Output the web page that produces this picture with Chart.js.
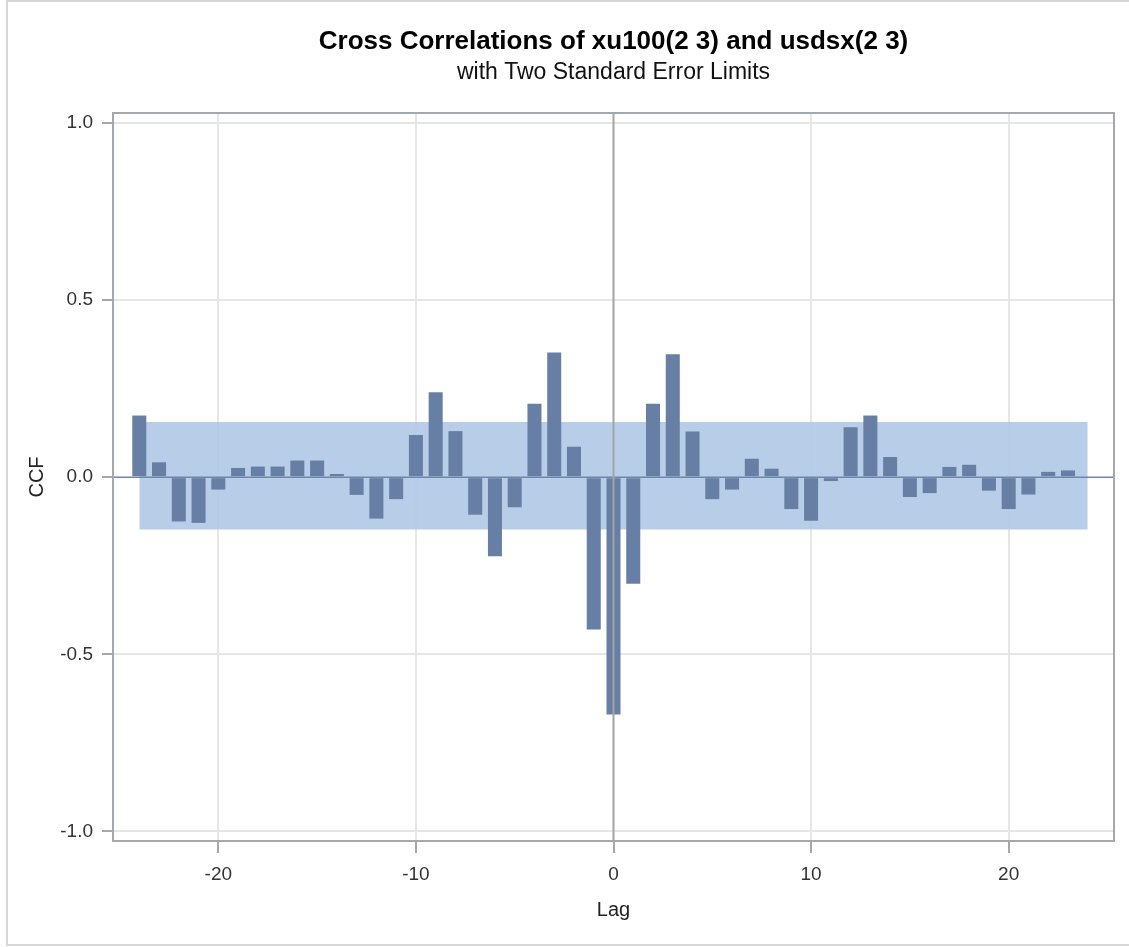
<!DOCTYPE html>
<html>
<head>
<meta charset="utf-8">
<title>Cross Correlations of xu100(2 3) and usdsx(2 3)</title>
<script src="https://cdn.jsdelivr.net/npm/chart.js@4.4.1/dist/chart.umd.min.js"></script>
<style>
  html, body { margin: 0; padding: 0; background: #ffffff; }
  #wrap { width: 1129px; height: 947px; }
</style>
</head>
<body>
<div id="wrap"><canvas id="ccf" width="1129" height="947"></canvas></div>
<script>
// Lags and cross-correlation values
const lags = [-24, -23, -22, -21, -20, -19, -18, -17, -16, -15, -14, -13, -12, -11, -10, -9, -8, -7, -6, -5, -4, -3, -2, -1,
              0, 1, 2, 3, 4, 5, 6, 7, 8, 9, 10, 11, 12, 13, 14, 15, 16, 17, 18, 19, 20, 21, 22, 23];
const ccf = [0.174, 0.042, -0.125, -0.129, -0.035, 0.026, 0.030, 0.030, 0.047, 0.047, 0.009, -0.050, -0.117, -0.062, 0.119, 0.240, 0.130, -0.106, -0.223, -0.085, 0.207, 0.352, 0.086, -0.430,
             -0.670, -0.301, 0.207, 0.347, 0.129, -0.062, -0.035, 0.052, 0.024, -0.090, -0.123, -0.011, 0.141, 0.174, 0.057, -0.056, -0.045, 0.029, 0.035, -0.038, -0.090, -0.049, 0.015, 0.019];

// Two standard error limits
const limitLags = [-24, 24];
const upperLimit = [0.156, 0.156];
const lowerLimit = [-0.148, -0.148];

// Axis ticks
const xTicks = [-20, -10, 0, 10, 20];
const yTicks = [-1.0, -0.5, 0.0, 0.5, 1.0];

const FONT = "'Liberation Sans', Arial, Helvetica, sans-serif";

const barPoints = lags.map((l, i) => ({ x: l, y: ccf[i] }));
const upperPoints = limitLags.map((l, i) => ({ x: l, y: upperLimit[i] }));
const lowerPoints = limitLags.map((l, i) => ({ x: l, y: lowerLimit[i] }));

// Page background, outer border, plot frame and the zero reference lines
const framePlugin = {
  id: 'frame',
  beforeDraw(chart) {
    const ctx = chart.ctx;
    ctx.save();
    ctx.fillStyle = '#ffffff';
    ctx.fillRect(0, 0, chart.width, chart.height);
    ctx.strokeStyle = '#d6d6d6';
    ctx.lineWidth = 2;
    ctx.strokeRect(7, 1, chart.width + 10, chart.height - 3);
    ctx.restore();
  },
  afterDatasetsDraw(chart) {
    const { ctx, chartArea: a, scales } = chart;
    ctx.save();
    // horizontal line at CCF = 0
    const y0 = scales.y.getPixelForValue(0);
    ctx.strokeStyle = '#6f86a8';
    ctx.lineWidth = 1.6;
    ctx.beginPath();
    ctx.moveTo(a.left, y0);
    ctx.lineTo(a.right, y0);
    ctx.stroke();
    // vertical line at lag 0
    const x0 = scales.x.getPixelForValue(0);
    ctx.strokeStyle = '#a3a3a3';
    ctx.lineWidth = 2;
    ctx.beginPath();
    ctx.moveTo(x0, a.top);
    ctx.lineTo(x0, a.bottom);
    ctx.stroke();
    // plot frame
    ctx.strokeStyle = '#a4a8ad';
    ctx.lineWidth = 2;
    ctx.strokeRect(a.left, a.top, a.right - a.left, a.bottom - a.top);
    ctx.restore();
  }
};

new Chart(document.getElementById('ccf'), {
  data: {
    datasets: [
      {
        type: 'bar',
        label: 'CCF',
        data: barPoints,
        backgroundColor: '#677fa4',
        borderWidth: 0,
        barPercentage: 0.71,
        categoryPercentage: 1.0,
        order: 1
      },
      {
        type: 'line',
        label: 'Upper limit',
        data: upperPoints,
        borderWidth: 0,
        pointRadius: 0,
        backgroundColor: 'rgba(176, 201, 229, 0.9)',
        fill: '+1',
        order: 2
      },
      {
        type: 'line',
        label: 'Lower limit',
        data: lowerPoints,
        borderWidth: 0,
        pointRadius: 0,
        fill: false,
        order: 2
      }
    ]
  },
  options: {
    responsive: false,
    animation: false,
    devicePixelRatio: 1,
    layout: { padding: { left: 6, right: 15, top: 0, bottom: 2 } },
    plugins: {
      legend: { display: false },
      tooltip: { enabled: false },
      title: {
        display: true,
        fullSize: false,
        text: 'Cross Correlations of xu100(2 3) and usdsx(2 3)',
        color: '#000000',
        font: { family: FONT, size: 26, weight: 'bold', lineHeight: 1.0 },
        padding: { top: 29, bottom: 0 }
      },
      subtitle: {
        display: true,
        fullSize: false,
        text: 'with Two Standard Error Limits',
        color: '#111111',
        font: { family: FONT, size: 23, lineHeight: 1.0 },
        padding: { top: 6, bottom: 29 }
      }
    },
    scales: {
      x: {
        type: 'linear',
        min: -25.33,
        max: 25.33,
        offset: false,
        afterBuildTicks: (s) => { s.ticks = xTicks.map(v => ({ value: v })); },
        afterFit: (s) => { s.height = 104; },
        ticks: {
          color: '#333333',
          font: { family: FONT, size: 19 },
          padding: 10,
          maxRotation: 0,
          callback: (v) => String(v)
        },
        grid: {
          offset: false,
          color: (c) => (c.tick && c.tick.value === 0 ? 'rgba(0,0,0,0)' : '#e6e6e6'),
          lineWidth: 2,
          tickColor: '#a4a8ad',
          tickLength: 12,
          tickWidth: 2
        },
        border: { display: false },
        title: {
          display: true,
          text: 'Lag',
          color: '#222222',
          font: { family: FONT, size: 20 },
          padding: { top: 0, bottom: 23 }
        }
      },
      y: {
        type: 'linear',
        min: -1.027,
        max: 1.028,
        afterBuildTicks: (s) => { s.ticks = yTicks.map(v => ({ value: v })); },
        afterFit: (s) => { s.width = 107; },
        ticks: {
          color: '#333333',
          font: { family: FONT, size: 19 },
          padding: 9,
          callback: (v) => Number(v).toFixed(1)
        },
        grid: {
          color: (c) => (c.tick && c.tick.value === 0 ? 'rgba(0,0,0,0)' : '#e6e6e6'),
          lineWidth: 2,
          tickColor: '#a4a8ad',
          tickLength: 11,
          tickWidth: 2
        },
        border: { display: false },
        title: {
          display: true,
          text: 'CCF',
          color: '#222222',
          font: { family: FONT, size: 20 },
          padding: { top: 19, bottom: 0 }
        }
      }
    }
  },
  plugins: [framePlugin]
});
</script>
</body>
</html>
